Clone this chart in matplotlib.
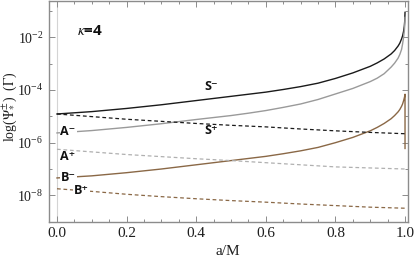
import numpy as np
import matplotlib
matplotlib.use('Agg')
import matplotlib.pyplot as plt
from matplotlib.ticker import NullFormatter, MultipleLocator

plt.rcParams['font.family'] = ['Liberation Serif', 'DejaVu Serif']
plt.rcParams['mathtext.fontset'] = 'stix'

# ---- data (log10 of the rate) ----
a_solid = [0.0, 0.1, 0.2, 0.3, 0.4, 0.5, 0.55, 0.6, 0.65, 0.7, 0.75, 0.8, 0.85,
           0.9, 0.92, 0.94, 0.96, 0.97, 0.98, 0.985, 0.99, 0.993, 0.996, 0.998,
           0.999, 1.0]
s_minus = [-4.91, -4.82, -4.70, -4.56, -4.40, -4.24, -4.16, -4.08, -3.98, -3.87,
           -3.74, -3.56, -3.35, -3.10, -2.97, -2.82, -2.63, -2.50, -2.33, -2.22,
           -2.06, -1.94, -1.76, -1.57, -1.40, -1.05]
a_minus = [-5.63, -5.54, -5.42, -5.28, -5.12, -4.97, -4.88, -4.78, -4.66, -4.53,
           -4.36, -4.15, -3.94, -3.68, -3.55, -3.38, -3.13, -2.98, -2.79, -2.65,
           -2.46, -2.25, -1.98, -1.76, -1.58, -1.24]
# B- ends with a vertical drop at a/M = 1
a_bminus = a_solid + [1.0]
b_minus = [-7.34, -7.26, -7.14, -7.00, -6.84, -6.68, -6.60, -6.52, -6.42, -6.31,
           -6.18, -6.00, -5.80, -5.55, -5.42, -5.27, -5.09, -4.97, -4.83, -4.74,
           -4.62, -4.53, -4.40, -4.30, -4.24, -4.16, -6.22]

a_dash = [0.0, 0.1, 0.2, 0.3, 0.4, 0.5, 0.6, 0.7, 0.8, 0.9, 1.0]
s_plus = [-4.91, -5.01, -5.11, -5.19, -5.27, -5.34, -5.40, -5.48, -5.55, -5.61, -5.66]
a_plus = [-6.25, -6.35, -6.45, -6.53, -6.61, -6.68, -6.76, -6.84, -6.92, -6.96, -7.00]
b_plus = [-7.75, -7.85, -7.96, -8.05, -8.13, -8.20, -8.26, -8.33, -8.39, -8.45, -8.49]

black = '#1a1a1a'
gray = '#9a9a9a'
lgray = '#b0b0b0'
brown = '#8a6846'
frame = '#8c8c8c'
txt = '#1e1e1e'

fig = plt.figure(figsize=(4.15, 2.62), dpi=100)
ax = fig.add_axes([0.118, 0.154, 0.864, 0.842])

ax.axvline(0, color='#d4d4d4', lw=0.8, zorder=0)

dash = (0, (3.0, 2.2))
ax.plot(a_solid, 10 ** np.array(s_minus), color=black, lw=1.0)
ax.plot(a_solid, 10 ** np.array(a_minus), color=gray, lw=1.0)
ax.plot(a_bminus, 10 ** np.array(b_minus), color=brown, lw=1.0)
ax.plot(a_dash, 10 ** np.array(s_plus), color=black, lw=0.9, linestyle=dash)
ax.plot(a_dash, 10 ** np.array(a_plus), color=lgray, lw=0.9, linestyle=dash)
ax.plot(a_dash, 10 ** np.array(b_plus), color=brown, lw=0.9, linestyle=dash)

ax.set_yscale('log')
ax.set_xlim(-0.023, 1.0072)
ax.set_ylim(10 ** -8.9, 10 ** -0.62)

ax.set_yticks([1e-8, 1e-6, 1e-4, 1e-2])
ax.set_yticks([1e-9, 1e-7, 1e-5, 1e-3, 1e-1], minor=True)
ax.yaxis.set_minor_formatter(NullFormatter())
ax.xaxis.set_major_locator(MultipleLocator(0.2))
ax.xaxis.set_minor_locator(MultipleLocator(0.05))

for sp in ax.spines.values():
    sp.set_color(frame)
    sp.set_linewidth(1.0)
ax.tick_params(which='both', direction='in', top=True, right=True, color=frame,
               width=0.7, labelcolor=txt)
ax.tick_params(axis='x', labelsize=11)
ax.tick_params(axis='y', labelsize=10)
ax.tick_params(which='major', length=4, pad=4)
ax.tick_params(which='minor', length=2.2)

ax.set_xlabel('a/M', fontsize=11, color=txt)
ax.xaxis.set_label_coords(0.5, -0.105)
ax.set_ylabel(r'log($\Psi^{\pm}_{*}$)  ($\Gamma$)', fontsize=10, color=txt)
ax.yaxis.set_label_coords(-0.084, 0.52)

lab = dict(family=['Open Sans', 'DejaVu Sans'], fontweight='bold', fontsize=9,
           ha='center', va='center', color='#111111')
box = dict(facecolor='white', edgecolor='none', pad=0.6)
ax.text(0.057, 10 ** -1.74, r'$\kappa$=4', ha='left', va='center', fontsize=11,
        family=['Open Sans', 'DejaVu Sans'], fontweight='bold', color='#111111')
ax.text(0.443, 10 ** -3.87, 'S⁻', **lab)
ax.text(0.443, 10 ** -5.54, 'S⁺', **lab)
ax.text(0.032, 10 ** -5.56, 'A⁻', bbox=box, **lab)
ax.text(0.032, 10 ** -6.52, 'A⁺', **lab)
ax.text(0.034, 10 ** -7.34, 'B⁻', bbox=box, **lab)
ax.text(0.071, 10 ** -7.80, 'B⁺', bbox=box, **lab)

fig.savefig('out.png', dpi=100)
